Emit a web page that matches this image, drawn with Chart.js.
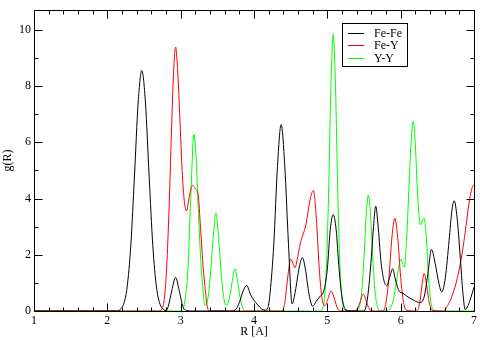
<!DOCTYPE html>
<html>
<head>
<meta charset="utf-8">
<script src="https://cdn.jsdelivr.net/npm/chart.js@4"></script>
<style>
  html, body { margin: 0; padding: 0; background: #fff; }
  #wrap { width: 480px; height: 340px; }
</style>
</head>
<body>
<div id="wrap"><canvas id="rdf"></canvas></div>
<script>
// pair distribution functions
const seriesNames = ['Fe-Fe', 'Fe-Y', 'Y-Y'];
const seriesColors = ['#000000', '#ff0000', '#00ff00'];

const feFeR = [1.0, 2.15, 2.17, 2.22, 2.27, 2.32, 2.37, 2.42, 2.47, 2.52, 2.57, 2.62, 2.67, 2.72, 2.77, 2.80, 2.83, 2.88, 2.93, 2.98, 3.03, 3.08, 3.15, 3.70, 3.75, 3.80, 3.85, 3.90, 3.95, 4.00, 4.05, 4.10, 4.15, 4.19, 4.22, 4.27, 4.32, 4.37, 4.42, 4.47, 4.52, 4.57, 4.62, 4.66, 4.70, 4.75, 4.80, 4.85, 4.90, 4.95, 5.00, 5.04, 5.08, 5.12, 5.16, 5.20, 5.25, 5.35, 5.50, 5.55, 5.60, 5.63, 5.66, 5.69, 5.73, 5.77, 5.81, 5.85, 5.89, 5.93, 5.98, 6.03, 6.10, 6.18, 6.26, 6.32, 6.37, 6.42, 6.47, 6.52, 6.56, 6.61, 6.66, 6.70, 6.73, 6.77, 6.81, 6.85, 6.88, 6.92, 6.96, 7.00];
const feFeG = [0, 0, 0.05, 0.23, 0.85, 2.33, 4.8, 7.4, 8.55, 7.4, 4.8, 2.33, 0.85, 0.23, 0.05, 0.02, 0.16, 0.73, 1.2, 0.73, 0.16, 0.02, 0, 0, 0.05, 0.3, 0.7, 0.91, 0.6, 0.38, 0.22, 0.08, 0.03, 0.12, 0.66, 2.39, 5.14, 6.63, 5.14, 2.39, 0.25, 0.8, 1.6, 1.9, 1.5, 0.6, 0.17, 0.35, 0.52, 0.7, 1.5, 2.9, 3.43, 2.9, 1.5, 0.5, 0.05, 0, 0, 0.5, 1.9, 3.0, 3.73, 3.1, 1.8, 1.1, 0.9, 1.2, 1.5, 1.1, 0.7, 0.63, 0.5, 0.38, 0.3, 0.5, 1.3, 2.19, 1.7, 1.0, 0.68, 1.2, 2.5, 3.6, 3.92, 3.3, 2.0, 0.6, 0.05, 0.2, 0.5, 0.85];

const feYR = [1.0, 2.70, 2.75, 2.78, 2.81, 2.84, 2.87, 2.90, 2.93, 2.96, 2.99, 3.02, 3.05, 3.08, 3.12, 3.16, 3.20, 3.24, 3.27, 3.30, 3.33, 3.36, 3.40, 4.38, 4.42, 4.46, 4.50, 4.53, 4.56, 4.60, 4.64, 4.67, 4.71, 4.76, 4.81, 4.85, 4.89, 4.93, 4.97, 5.01, 5.05, 5.09, 5.13, 5.18, 5.38, 5.43, 5.49, 5.55, 5.60, 5.76, 5.80, 5.84, 5.88, 5.92, 5.96, 6.00, 6.04, 6.08, 6.22, 6.26, 6.29, 6.32, 6.35, 6.39, 6.44, 6.58, 6.63, 6.68, 6.74, 6.80, 6.85, 6.89, 6.93, 6.97, 6.99, 7.00];
const feYG = [0, 0, 0.1, 0.5, 1.6, 3.5, 6.0, 8.3, 9.39, 8.5, 6.8, 5.0, 3.9, 3.56, 4.1, 4.47, 4.35, 4.1, 3.0, 1.8, 0.9, 0.2, 0, 0, 0.3, 1.2, 1.85, 1.7, 1.54, 2.0, 2.5, 2.73, 3.1, 3.9, 4.29, 3.3, 1.5, 0.4, 0.2, 0.45, 0.71, 0.5, 0.15, 0, 0, 0.2, 0.6, 0.2, 0, 0, 0.3, 1.2, 2.6, 3.3, 2.6, 1.2, 0.3, 0.03, 0, 0.3, 0.9, 1.34, 1.0, 0.3, 0.02, 0, 0.15, 0.4, 0.85, 1.5, 2.25, 3.0, 3.8, 4.35, 4.47, 4.45];

const yYR = [1.0, 3.02, 3.06, 3.10, 3.14, 3.18, 3.21, 3.24, 3.27, 3.30, 3.33, 3.36, 3.40, 3.44, 3.48, 3.52, 3.56, 3.60, 3.62, 3.66, 3.70, 3.74, 3.78, 3.82, 3.86, 3.90, 4.90, 4.93, 4.96, 4.99, 5.02, 5.05, 5.08, 5.11, 5.14, 5.17, 5.20, 5.23, 5.28, 5.38, 5.41, 5.44, 5.47, 5.50, 5.53, 5.56, 5.59, 5.62, 5.65, 5.68, 5.71, 5.78, 5.82, 5.86, 5.90, 5.94, 5.97, 6.00, 6.03, 6.05, 6.08, 6.11, 6.14, 6.17, 6.20, 6.23, 6.27, 6.30, 6.32, 6.35, 6.38, 6.41, 6.45, 6.50, 7.00];
const yYG = [0, 0, 0.4, 1.5, 4.2, 6.28, 5.5, 3.65, 2.0, 0.9, 0.2, 0.3, 1.1, 2.5, 3.48, 2.5, 1.1, 0.3, 0.2, 0.4, 1.0, 1.5, 1.0, 0.35, 0.05, 0, 0, 0.07, 0.43, 1.7, 4.5, 8.1, 9.84, 8.1, 4.5, 1.7, 0.43, 0.07, 0, 0, 0.03, 0.18, 0.7, 1.9, 3.4, 4.12, 3.4, 1.9, 0.7, 0.18, 0.03, 0, 0, 0.1, 0.4, 1.0, 1.5, 1.84, 1.65, 1.55, 2.5, 4.2, 5.9, 6.74, 5.9, 4.2, 3.06, 3.25, 3.3, 2.6, 1.2, 0.35, 0.05, 0, 0];

const xTickLabels = [1, 2, 3, 4, 5, 6, 7];
const yTickLabels = [0, 2, 4, 6, 8, 10];

const serif = '"Liberation Serif", "DejaVu Serif", serif';

function toPoints(rs, gs) {
	return rs.map((r, i) => ({ x: r, y: gs[i] }));
}

// xmgrace style frame: box on all sides, ticks pointing inwards, plus the legend box
const frameAndLegend = {
	id: 'frameAndLegend',
	afterDraw(chart) {
		const ctx = chart.ctx;
		const a = chart.chartArea;
		const xs = chart.scales.x;
		const ys = chart.scales.y;
		const L = Math.round(a.left) + 0.5, R = Math.round(a.right) + 0.5;
		const T = Math.round(a.top) + 0.5, B = Math.round(a.bottom) + 0.5;
		ctx.save();
		ctx.strokeStyle = '#000';
		ctx.lineWidth = 1;
		ctx.beginPath();
		ctx.moveTo(L, T); ctx.lineTo(R, T); ctx.lineTo(R, B); ctx.lineTo(L, B); ctx.closePath();
		for (let i = 0; i <= 30; i++) {
			const len = (i % 5 === 0) ? 8 : 4;
			const px = Math.round(xs.getPixelForValue(1 + i * 0.2)) + 0.5;
			ctx.moveTo(px, B); ctx.lineTo(px, B - len);
			ctx.moveTo(px, T); ctx.lineTo(px, T + len);
		}
		for (let v = 0; v <= 10; v++) {
			const len = (v % 2 === 0) ? 8 : 4;
			const py = Math.round(ys.getPixelForValue(v)) + 0.5;
			ctx.moveTo(L, py); ctx.lineTo(L + len, py);
			ctx.moveTo(R, py); ctx.lineTo(R - len, py);
		}
		ctx.stroke();

		const bx = 342.5, by = 23.5, bw = 65, bh = 43;
		ctx.fillStyle = '#fff';
		ctx.fillRect(bx, by, bw, bh);
		ctx.strokeRect(bx, by, bw, bh);
		ctx.font = '12px ' + serif;
		ctx.textBaseline = 'middle';
		chart.data.datasets.forEach((ds, i) => {
			const y = Math.round(by + 9 + i * 12.5) + 0.5;
			ctx.strokeStyle = ds.borderColor;
			ctx.beginPath();
			ctx.moveTo(348, y);
			ctx.lineTo(364, y);
			ctx.stroke();
			ctx.fillStyle = '#000';
			ctx.fillText(ds.label, 374, y);
		});
		ctx.restore();
	}
};

const dataSeries = [toPoints(feFeR, feFeG), toPoints(feYR, feYG), toPoints(yYR, yYG)];

const config = {
	type: 'line',
	data: {
		datasets: dataSeries.map((pts, i) => ({
			label: seriesNames[i],
			data: pts,
			borderColor: seriesColors[i],
			borderWidth: 1,
			pointRadius: 0,
			fill: false,
			cubicInterpolationMode: 'monotone'
		}))
	},
	options: {
		responsive: true,
		maintainAspectRatio: false,
		animation: false,
		layout: { padding: { top: 5, right: 6, left: 0, bottom: 0 } },
		plugins: {
			legend: { display: false },
			tooltip: { enabled: false }
		},
		scales: {
			x: {
				type: 'linear',
				min: 1,
				max: 7,
				grid: { display: false, drawTicks: false },
				border: { display: false },
				afterBuildTicks: s => { s.ticks = xTickLabels.map(v => ({ value: v })); },
				afterFit: s => { s.height = 29; },
				ticks: { color: '#000', padding: 3, font: { family: serif, size: 12 } },
				title: { display: true, text: 'R [A]', color: '#000', padding: { top: 0, bottom: 1 }, font: { family: serif, size: 12 } }
			},
			y: {
				min: 0,
				max: 10.7,
				grid: { display: false, drawTicks: false },
				border: { display: false },
				afterBuildTicks: s => { s.ticks = yTickLabels.map(v => ({ value: v })); },
				afterFit: s => { s.width = 34; },
				ticks: { color: '#000', padding: 3, font: { family: serif, size: 12 } },
				title: { display: true, text: 'g(R)', color: '#000', padding: { top: 1, bottom: 0 }, font: { family: serif, size: 12 } }
			}
		}
	},
	plugins: [frameAndLegend]
};

var rdfChart = new Chart(document.getElementById('rdf'), config);
</script>
</body>
</html>
